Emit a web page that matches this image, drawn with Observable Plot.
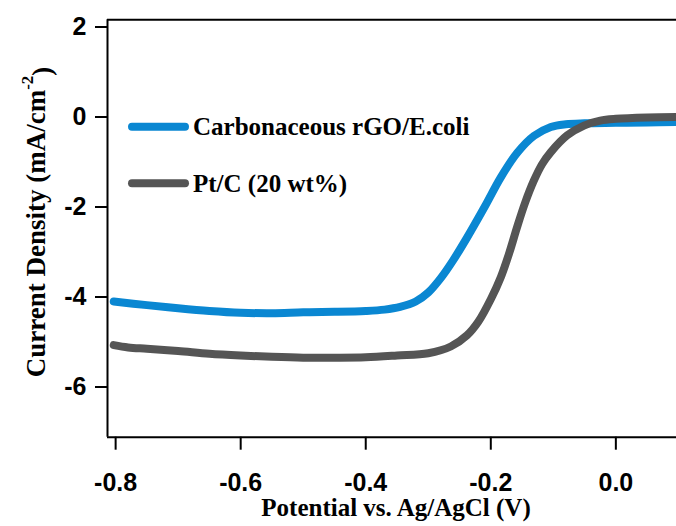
<!DOCTYPE html>
<html>
<head>
<meta charset="utf-8">
<script src="https://cdn.jsdelivr.net/npm/d3@7"></script>
<script src="https://cdn.jsdelivr.net/npm/@observablehq/plot@0.6"></script>
<style>
  html, body { margin: 0; padding: 0; background: white; }
  svg { display: block; }
  g[aria-label="x-axis tick label"] text, g[aria-label="y-axis tick label"] text { font-weight: bold; }
</style>
</head>
<body>
<div id="chart"></div>
<script>
// ---- data ----
const seriesNames = ["Carbonaceous rGO/E.coli", "Pt/C (20 wt%)"];
const seriesColors = ["#0a87d2", "#555555"];

const rgoX = [-0.803, -0.75, -0.70, -0.65, -0.60, -0.55, -0.50, -0.45, -0.40, -0.37, -0.345, -0.32, -0.30, -0.28, -0.26, -0.238, -0.21, -0.184, -0.158, -0.131, -0.104, -0.08, -0.05, 0.0, 0.05, 0.097];
const rgoY = [-4.10, -4.18, -4.25, -4.31, -4.35, -4.36, -4.34, -4.33, -4.31, -4.28, -4.22, -4.10, -3.90, -3.58, -3.18, -2.68, -2.00, -1.34, -0.80, -0.42, -0.22, -0.16, -0.14, -0.13, -0.12, -0.11];

const ptX = [-0.803, -0.78, -0.75, -0.70, -0.65, -0.60, -0.55, -0.50, -0.45, -0.40, -0.35, -0.30, -0.264, -0.238, -0.22, -0.20, -0.184, -0.17, -0.158, -0.145, -0.131, -0.118, -0.104, -0.078, -0.051, -0.025, 0.0, 0.05, 0.097];
const ptY = [-5.07, -5.12, -5.15, -5.20, -5.26, -5.30, -5.33, -5.35, -5.35, -5.34, -5.30, -5.25, -5.10, -4.85, -4.55, -4.05, -3.56, -3.00, -2.45, -1.90, -1.41, -1.05, -0.78, -0.41, -0.19, -0.08, -0.04, -0.01, 0.00];

const xTicks = [-0.8, -0.6, -0.4, -0.2, 0.0];
const yTicks = [2, 0, -2, -4, -6];
const xDomain = [-0.813, 0.097];
const yDomain = [-7.115, 2.16];
const xLabel = "Potential vs. Ag/AgCl (V)";
const yLabelMain = "Current Density (mA/cm";
const yLabelSup = "-2";

// ---- build table ----
const rows = [
  ...rgoX.map((x, i) => ({x, y: rgoY[i], s: seriesNames[0]})),
  ...ptX.map((x, i) => ({x, y: ptY[i], s: seriesNames[1]}))
];

const W = 676, H = 526;
const serif = "'Liberation Serif', 'Times New Roman', serif";
const sans = "'Liberation Sans', Arial, sans-serif";

const chart = Plot.plot({
  width: W,
  height: H,
  marginLeft: 107,
  marginRight: 0,
  marginTop: 19.3,
  marginBottom: 89.3,
  style: {background: "white", fontFamily: sans, color: "black"},
  x: {domain: xDomain},
  y: {domain: yDomain},
  color: {domain: seriesNames, range: seriesColors},
  marks: [
    Plot.line(rows, {x: "x", y: "y", z: "s", stroke: "s", strokeWidth: 8, strokeLinecap: "round", strokeLinejoin: "round", curve: "catmull-rom", clip: true}),
    Plot.ruleX([xDomain[0]], {stroke: "black", strokeWidth: 2}),
    Plot.ruleY(yDomain, {stroke: "black", strokeWidth: 2}),
    Plot.axisX({ticks: xTicks, tickFormat: d => d.toFixed(1), tickSize: 13, tickPadding: 23, fontSize: 25, strokeWidth: 2, label: null}),
    Plot.axisY({ticks: yTicks, tickFormat: d => d.toFixed(0), tickSize: 12, tickPadding: 9, fontSize: 25, strokeWidth: 2, label: null}),
    Plot.text([xLabel], {frameAnchor: "bottom", dy: 79, dx: 4, fontFamily: serif, fontWeight: "bold", fontSize: 25, fill: "black"})
  ]
});

document.getElementById("chart").appendChild(chart);

// ---- y axis title with superscript ----
const svg = d3.select(chart);
const yt = svg.append("text")
  .attr("transform", "translate(36,222) rotate(-90)")
  .attr("text-anchor", "middle")
  .attr("dominant-baseline", "central")
  .style("font-family", serif)
  .style("font-weight", "bold")
  .style("font-size", "27px")
  .attr("fill", "black");
yt.append("tspan").text(yLabelMain);
yt.append("tspan").attr("dy", "-0.55em").style("font-size", "17px").text(yLabelSup);
yt.append("tspan").attr("dy", "0.55em").text(")");

// ---- legend ----
const legendY = [126.7, 183.3];
seriesNames.forEach((name, i) => {
  svg.append("line")
    .attr("x1", 132).attr("x2", 185)
    .attr("y1", legendY[i]).attr("y2", legendY[i])
    .attr("stroke", seriesColors[i]).attr("stroke-width", 8).attr("stroke-linecap", "round");
  svg.append("text")
    .attr("x", 193).attr("y", legendY[i])
    .attr("text-anchor", "start")
    .attr("dominant-baseline", "central")
    .style("font-family", serif).style("font-weight", "bold").style("font-size", "25px")
    .attr("fill", "black")
    .text(name);
});
</script>
</body>
</html>
